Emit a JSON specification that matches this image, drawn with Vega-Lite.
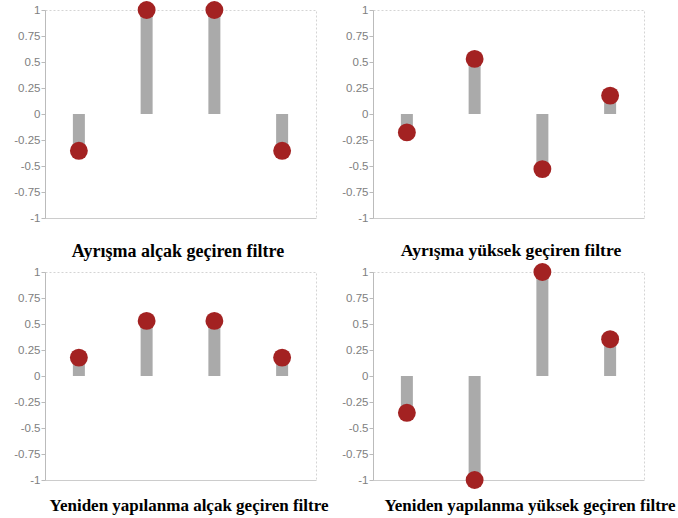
{
  "$schema": "https://vega.github.io/schema/vega-lite/v6.json",
  "background": "white",
  "padding": {"left": 13, "top": 0, "right": 5, "bottom": 5},
  "columns": 2,
  "spacing": {"row": 54, "column": 57},
  "bounds": "flush",
  "datasets": {
    "p1": [{"k": 1, "v": -0.354}, {"k": 2, "v": 1}, {"k": 3, "v": 1}, {"k": 4, "v": -0.354}],
    "p2": [{"k": 1, "v": -0.177}, {"k": 2, "v": 0.53}, {"k": 3, "v": -0.53}, {"k": 4, "v": 0.177}],
    "p3": [{"k": 1, "v": 0.177}, {"k": 2, "v": 0.53}, {"k": 3, "v": 0.53}, {"k": 4, "v": 0.177}],
    "p4": [{"k": 1, "v": -0.354}, {"k": 2, "v": -1}, {"k": 3, "v": 1}, {"k": 4, "v": 0.354}]
  },
  "concat": [
    {
      "data": {"name": "p1"},
      "width": 271, "height": 208,
      "title": {"text": "Ayrışma alçak geçiren filtre", "offset": 19, "dx": -2.5, "fontSize": 18},
      "encoding": {
        "x": {"field": "k", "type": "ordinal", "scale": {"paddingInner": 0, "paddingOuter": 0}},
        "y": {"field": "v", "type": "quantitative", "scale": {"domain": [-1, 1], "nice": false, "zero": false}, "axis": {"values": [-1, -0.75, -0.5, -0.25, 0, 0.25, 0.5, 0.75, 1]}}
      },
      "layer": [
        {"data": {"values": [{}]}, "mark": {"type": "rule", "color": "#cccccc", "strokeDash": [2, 2], "strokeWidth": 1}, "encoding": {"x": null, "y": {"datum": 0}}},
        {"mark": {"type": "bar", "size": 12, "color": "#aaaaaa"}, "encoding": {"y2": {"datum": 0}}},
        {"mark": {"type": "circle", "size": 320, "color": "#a32222", "opacity": 1}}
      ]
    },
    {
      "data": {"name": "p2"},
      "width": 271, "height": 208,
      "title": {"text": "Ayrışma yüksek geçiren filtre", "offset": 18, "dx": 2.5, "fontSize": 17.6},
      "encoding": {
        "x": {"field": "k", "type": "ordinal", "scale": {"paddingInner": 0, "paddingOuter": 0}},
        "y": {"field": "v", "type": "quantitative", "scale": {"domain": [-1, 1], "nice": false, "zero": false}, "axis": {"values": [-1, -0.75, -0.5, -0.25, 0, 0.25, 0.5, 0.75, 1]}}
      },
      "layer": [
        {"data": {"values": [{}]}, "mark": {"type": "rule", "color": "#cccccc", "strokeDash": [2, 2], "strokeWidth": 1}, "encoding": {"x": null, "y": {"datum": 0}}},
        {"mark": {"type": "bar", "size": 12, "color": "#aaaaaa"}, "encoding": {"y2": {"datum": 0}}},
        {"mark": {"type": "circle", "size": 320, "color": "#a32222", "opacity": 1}}
      ]
    },
    {
      "data": {"name": "p3"},
      "width": 271, "height": 208,
      "title": {"text": "Yeniden yapılanma alçak geçiren filtre", "offset": 12, "dx": 8.5, "fontSize": 17},
      "encoding": {
        "x": {"field": "k", "type": "ordinal", "scale": {"paddingInner": 0, "paddingOuter": 0}},
        "y": {"field": "v", "type": "quantitative", "scale": {"domain": [-1, 1], "nice": false, "zero": false}, "axis": {"values": [-1, -0.75, -0.5, -0.25, 0, 0.25, 0.5, 0.75, 1]}}
      },
      "layer": [
        {"data": {"values": [{}]}, "mark": {"type": "rule", "color": "#cccccc", "strokeDash": [2, 2], "strokeWidth": 1}, "encoding": {"x": null, "y": {"datum": 0}}},
        {"mark": {"type": "bar", "size": 12, "color": "#aaaaaa"}, "encoding": {"y2": {"datum": 0}}},
        {"mark": {"type": "circle", "size": 320, "color": "#a32222", "opacity": 1}}
      ]
    },
    {
      "data": {"name": "p4"},
      "width": 271, "height": 208,
      "title": {"text": "Yeniden yapılanma yüksek geçiren filtre", "offset": 9, "dx": 21.5, "fontSize": 17},
      "encoding": {
        "x": {"field": "k", "type": "ordinal", "scale": {"paddingInner": 0, "paddingOuter": 0}},
        "y": {"field": "v", "type": "quantitative", "scale": {"domain": [-1, 1], "nice": false, "zero": false}, "axis": {"values": [-1, -0.75, -0.5, -0.25, 0, 0.25, 0.5, 0.75, 1]}}
      },
      "layer": [
        {"data": {"values": [{}]}, "mark": {"type": "rule", "color": "#cccccc", "strokeDash": [2, 2], "strokeWidth": 1}, "encoding": {"x": null, "y": {"datum": 0}}},
        {"mark": {"type": "bar", "size": 12, "color": "#aaaaaa"}, "encoding": {"y2": {"datum": 0}}},
        {"mark": {"type": "circle", "size": 320, "color": "#a32222", "opacity": 1}}
      ]
    }
  ],
  "config": {
    "view": {"stroke": "#d4d4d4", "strokeDash": [2, 2]},
    "title": {"font": "Liberation Serif", "fontSize": 18, "fontWeight": "bold", "color": "#000000", "orient": "bottom", "frame": "group", "anchor": "middle", "baseline": "alphabetic"},
    "axisX": {"labels": false, "ticks": false, "title": null, "domain": true, "domainColor": "#cccccc", "grid": false},
    "axisY": {"labelExpr": "datum.value + ''", "labelOverlap": false, "labelColor": "#808080", "labelFont": "Liberation Sans", "labelFontSize": 11.5, "tickSize": 4, "tickColor": "#bbbbbb", "domainColor": "#bbbbbb", "labelPadding": 1, "grid": false, "title": null}
  }
}
